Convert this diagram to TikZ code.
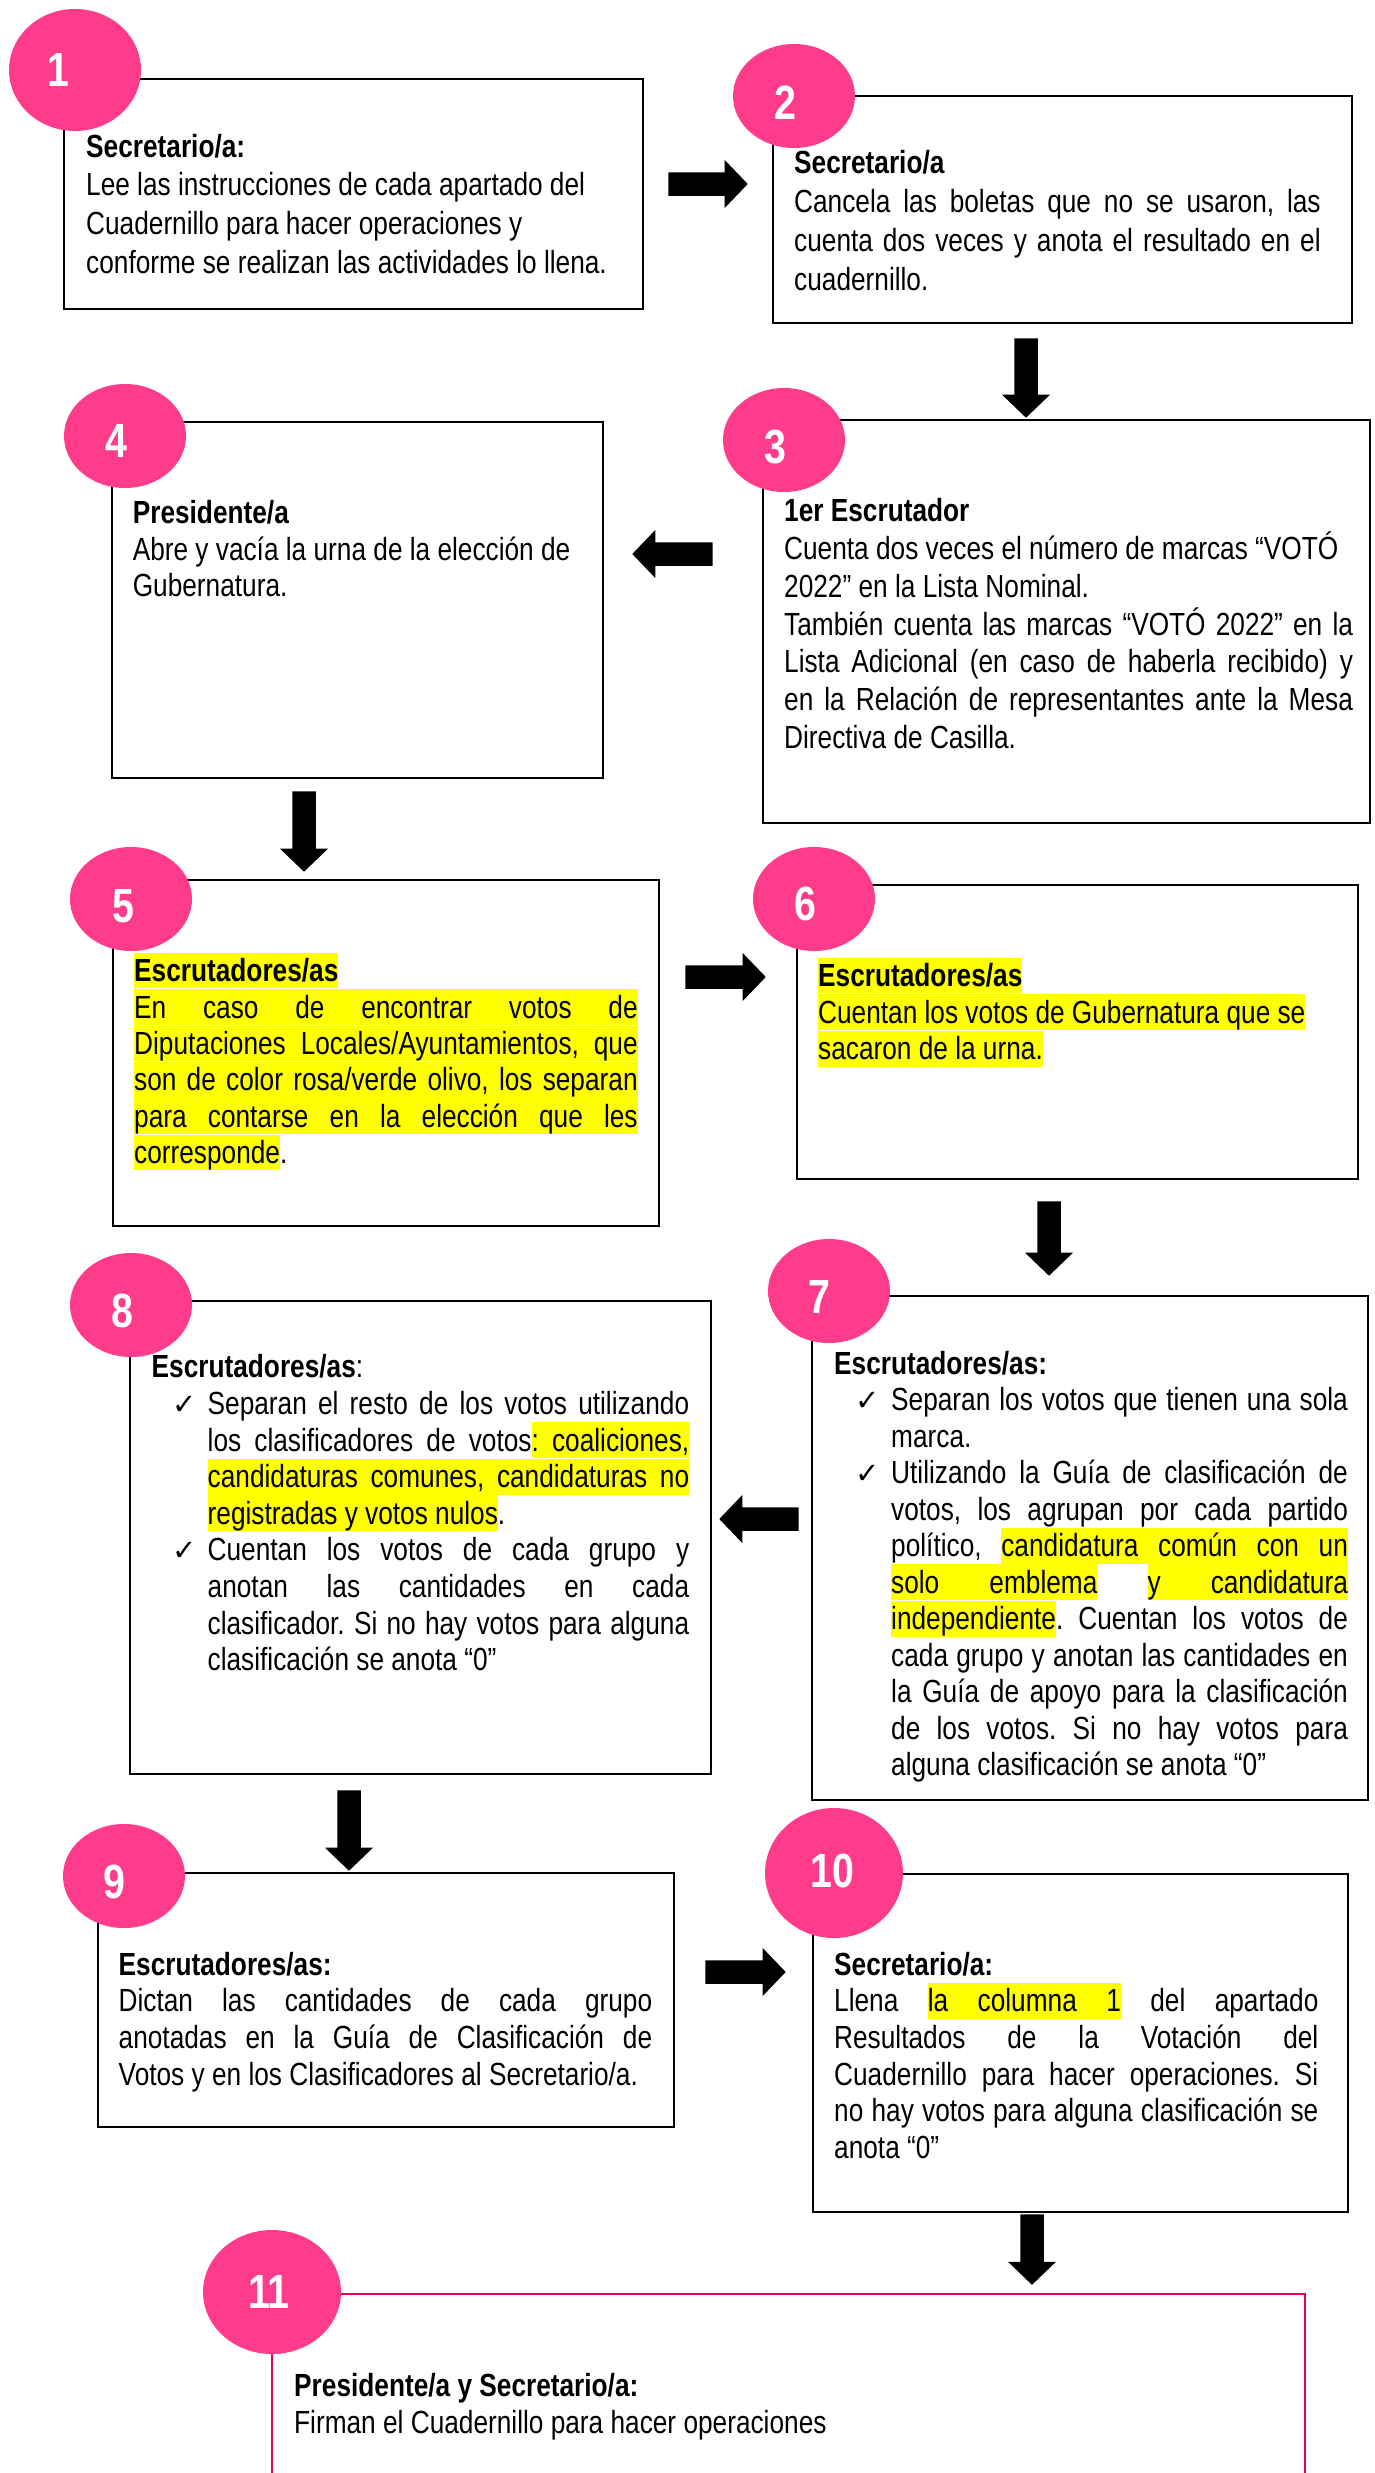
\documentclass[tikz,border=0pt]{standalone}
\usepackage{fontspec}
\setmainfont{Liberation Sans}[FakeStretch=0.82]
\newfontfamily\symf{DejaVu Sans}
\usetikzlibrary{shapes.geometric,calc}
\frenchspacing
\definecolor{hly}{RGB}{255,255,0}
\definecolor{pinkc}{RGB}{255,59,139}
\definecolor{pinkl}{RGB}{228,0,92}
\newcommand\HL[1]{{\fboxsep=0pt\colorbox{hly}{\rule[-0.212em]{0pt}{1.117em}#1}}}
\newcommand\HS{{\color{hly}\leaders\hrule height 0.905em depth 0.212em\hskip\fontdimen2\font plus\fontdimen3\font minus\fontdimen4\font\relax}}
\newcommand\J[1]{\hbox to \W{#1}}
\newcommand\CK[2]{\hskip#1\hbox to #2{\symf\fontsize{29}{29}\selectfont ✓\hss}}
\newcommand\ArrR[2]{\fill[arrowc] let \p1=(#1), \p2=(#2) in (\x1,\y1+11.75pt) -- (\x2-23pt,\y1+11.75pt) -- (\x2-23pt,\y1+24pt) -- (\x2,\y1) -- (\x2-23pt,\y1-24pt) -- (\x2-23pt,\y1-11.75pt) -- (\x1,\y1-11.75pt) -- cycle;}
\newcommand\ArrL[2]{\fill[arrowc] let \p1=(#1), \p2=(#2) in (\x1,\y1+11.75pt) -- (\x2+23pt,\y1+11.75pt) -- (\x2+23pt,\y1+24pt) -- (\x2,\y1) -- (\x2+23pt,\y1-24pt) -- (\x2+23pt,\y1-11.75pt) -- (\x1,\y1-11.75pt) -- cycle;}
\newcommand\ArrD[2]{\fill[arrowc] let \p1=(#1), \p2=(#2) in (\x1-11.75pt,\y1) -- (\x1-11.75pt,\y2+23pt) -- (\x1-24pt,\y2+23pt) -- (\x1,\y2) -- (\x1+24pt,\y2+23pt) -- (\x1+11.75pt,\y2+23pt) -- (\x1+11.75pt,\y1) -- cycle;}
\begin{document}
\begin{tikzpicture}[x=1pt,y=-1pt,
  boxst/.style={draw=black, line width=2.6pt, rectangle, inner sep=0pt, fill=white},
  txt/.style={anchor=base west, inner sep=0pt, font=\fontsize{32}{36.6}\selectfont\frenchspacing},
  badge/.style={ellipse, fill=pinkc, draw=none, inner sep=0pt},
  num/.style={text=white, inner sep=0pt, font=\fontsize{48}{48}\selectfont\bfseries},
  arrowc/.style={fill=black},
  pinkline/.style={draw=pinkl, line width=2.4pt}]
\fill[white] (0,0) rectangle (1374,2473);
\useasboundingbox (0,0) rectangle (1374,2473);

% boxes
\node[boxst, minimum width=579pt, minimum height=230pt] (b1) at (353.5,194) {};
\node[boxst, minimum width=579pt, minimum height=227pt] (b2) at (1062.5,209.5) {};
\node[boxst, minimum width=607pt, minimum height=403pt] (b3) at (1066.5,621.5) {};
\node[boxst, minimum width=491pt, minimum height=356pt] (b4) at (357.5,600) {};
\node[boxst, minimum width=546pt, minimum height=346pt] (b5) at (386,1053) {};
\node[boxst, minimum width=561pt, minimum height=294pt] (b6) at (1077.5,1032) {};
\node[boxst, minimum width=556pt, minimum height=504pt] (b7) at (1090,1548) {};
\node[boxst, minimum width=581pt, minimum height=473pt] (b8) at (420.5,1537.5) {};
\node[boxst, minimum width=576pt, minimum height=254pt] (b9) at (386,2000) {};
\node[boxst, minimum width=535pt, minimum height=338pt] (b10) at (1080.5,2043) {};
\node[inner sep=0pt, minimum width=1033pt, minimum height=179pt] (b11) at (788.5,2383.5) {};
\draw[pinkline] (b11.south west) -- (b11.north west) -- (b11.north east) -- (b11.south east);

% texts
\node[txt] (t1) at (86,157) {\vtop{\baselineskip=38.7pt
\hbox{\bfseries Secretario/a:}
\hbox{Lee las instrucciones de cada apartado del}
\hbox{Cuadernillo para hacer operaciones y}
\hbox{conforme se realizan las actividades lo llena.}}};

\node[txt] (t2) at (794,173.3) {\def\W{526.5pt}\vtop{\baselineskip=38.9pt
\hbox{\bfseries Secretario/a}
\J{Cancela las boletas que no se usaron, las}
\J{cuenta dos veces y anota el resultado en el}
\hbox{cuadernillo.}}};

\node[txt] (t3) at (784,521.7) {\def\W{568.8pt}\vtop{\baselineskip=37.8pt
\hbox{\bfseries 1er Escrutador}
\hbox{Cuenta dos veces el número de marcas “VOTÓ}
\hbox{2022” en la Lista Nominal.}
\J{También cuenta las marcas “VOTÓ 2022” en la}
\J{Lista Adicional (en caso de haberla recibido) y}
\J{en la Relación de representantes ante la Mesa}
\hbox{Directiva de Casilla.}}};

\node[txt] (t4) at (132.6,523.3) {\vtop{\baselineskip=36.8pt
\hbox{\bfseries Presidente/a}
\hbox{Abre y vacía la urna de la elección de}
\hbox{Gubernatura.}}};

\node[txt] (t5) at (134,981.7) {\def\W{503.5pt}\vtop{\baselineskip=36.4pt
\hbox{\HL{\bfseries Escrutadores/as}}
\hbox{\HL{\J{En caso de encontrar votos de}}}
\hbox{\HL{\J{Diputaciones Locales/Ayuntamientos, que}}}
\hbox{\HL{\J{son de color rosa/verde olivo, los separan}}}
\hbox{\HL{\J{para contarse en la elección que les}}}
\hbox{\HL{corresponde}.}}};

\node[txt] (t6) at (818,986.7) {\vtop{\baselineskip=36.6pt
\hbox{\HL{\bfseries Escrutadores/as}}
\hbox{\HL{Cuentan los votos de Gubernatura que se}}
\hbox{\HL{sacaron de la urna.}}}};

\node[txt] (t7) at (834,1374.3) {\def\W{456.7pt}\vtop{\baselineskip=36.5pt
\hbox{\bfseries Escrutadores/as:}
\hbox{\CK{21pt}{36pt}\J{Separan los votos que tienen una sola}}
\hbox{\hskip57pt marca.}
\hbox{\CK{21pt}{36pt}\J{Utilizando la Guía de clasificación de}}
\hbox{\hskip57pt\J{votos, los agrupan por cada partido}}
\hbox{\hskip57pt\J{político, \HL{candidatura}\HS\HL{común}\HS\HL{con}\HS\HL{un}}}
\hbox{\hskip57pt\J{\HL{solo}\HS\HL{emblema} \HL{y}\HS\HL{candidatura}}}
\hbox{\hskip57pt\J{\HL{independiente}. Cuentan los votos de}}
\hbox{\hskip57pt\J{cada grupo y anotan las cantidades en}}
\hbox{\hskip57pt\J{la Guía de apoyo para la clasificación}}
\hbox{\hskip57pt\J{de los votos. Si no hay votos para}}
\hbox{\hskip57pt alguna clasificación se anota “0”}}};

\node[txt] (t8) at (151.5,1377.9) {\def\W{481.5pt}\vtop{\baselineskip=36.6pt
\hbox{\textbf{Escrutadores/as}:}
\hbox{\CK{20.5pt}{35.5pt}\J{Separan el resto de los votos utilizando}}
\hbox{\hskip56pt\J{los clasificadores de votos\HL{:}\HS\HL{coaliciones,}}}
\hbox{\hskip56pt\HL{\J{candidaturas comunes, candidaturas no}}}
\hbox{\hskip56pt\HL{registradas y votos nulos}.}
\hbox{\CK{20.5pt}{35.5pt}\J{Cuentan los votos de cada grupo y}}
\hbox{\hskip56pt\J{anotan las cantidades en cada}}
\hbox{\hskip56pt\J{clasificador. Si no hay votos para alguna}}
\hbox{\hskip56pt clasificación se anota “0”}}};

\node[txt] (t9) at (118.5,1975) {\def\W{533.5pt}\vtop{\baselineskip=36.7pt
\hbox{\bfseries Escrutadores/as:}
\J{Dictan las cantidades de cada grupo}
\J{anotadas en la Guía de Clasificación de}
\hbox{Votos y en los Clasificadores al Secretario/a.}}};

\node[txt] (t10) at (834,1975) {\def\W{484.2pt}\vtop{\baselineskip=36.7pt
\hbox{\bfseries Secretario/a:}
\J{Llena \HL{la}\HS\HL{columna}\HS\HL{1} del apartado}
\J{Resultados de la Votación del}
\J{Cuadernillo para hacer operaciones. Si}
\J{no hay votos para alguna clasificación se}
\hbox{anota “0”}}};

\node[txt] (t11) at (294,2396) {\vtop{\baselineskip=37pt
\hbox{\bfseries Presidente/a y Secretario/a:}
\hbox{Firman el Cuadernillo para hacer operaciones}}};

% arrows
\ArrR{$(b1.east)+(24,-10)$}{$(b2.west)+(-24,-25.5)$}
\ArrD{$(b2.south)+(-36.5,14)$}{$(b3.north)+(-40.5,-1)$}
\ArrL{$(b3.west)+(-49,-67.5)$}{$(b4.east)+(28,-46)$}
\ArrD{$(b4.south)+(-53.5,12)$}{$(b5.north)+(0,-7)$}
\ArrR{$(b5.east)+(25,-76)$}{$(b6.west)+(-30,-55)$}
\ArrD{$(b6.south)+(-28.5,21)$}{$(b7.north)+(0,-19)$}
\ArrL{$(b7.west)+(-12,-29)$}{$(b8.east)+(7,-18.5)$}
\ArrD{$(b8.south)+(-71.5,15)$}{$(b9.north)+(0,-1)$}
\ArrR{$(b9.east)+(30,-28)$}{$(b10.west)+(-26,-71)$}
\ArrD{$(b10.south)+(-48.5,1)$}{$(b11.north)+(0,-9)$}

% badges
\node[badge, minimum width=132pt, minimum height=122pt] (c1) at (75,70) {};
\node[badge, minimum width=122pt, minimum height=104pt] (c2) at (794,96) {};
\node[badge, minimum width=122pt, minimum height=104pt] (c3) at (784,440) {};
\node[badge, minimum width=122pt, minimum height=104pt] (c4) at (125,436) {};
\node[badge, minimum width=122pt, minimum height=104pt] (c5) at (131,899) {};
\node[badge, minimum width=122pt, minimum height=104pt] (c6) at (814,899) {};
\node[badge, minimum width=122pt, minimum height=104pt] (c7) at (829,1291) {};
\node[badge, minimum width=122pt, minimum height=104pt] (c8) at (131,1305) {};
\node[badge, minimum width=122pt, minimum height=104pt] (c9) at (124,1876) {};
\node[badge, minimum width=138pt, minimum height=130pt] (c10) at (834,1873) {};
\node[badge, minimum width=138pt, minimum height=124pt] (c11) at (272,2292) {};

\node[num] (n1) at (58,70) {1};
\node[num] (n2) at (785,102.5) {2};
\node[num] (n3) at (775,447) {3};
\node[num] (n4) at (116,441) {4};
\node[num] (n5) at (123,906) {5};
\node[num] (n6) at (805,904) {6};
\node[num] (n7) at (819,1297) {7};
\node[num] (n8) at (122,1311) {8};
\node[num] (n9) at (114,1882) {9};
\node[num] (n10) at (832,1871) {10};
\node[num] (n11) at (269,2292) {11};
\end{tikzpicture}
\end{document}
